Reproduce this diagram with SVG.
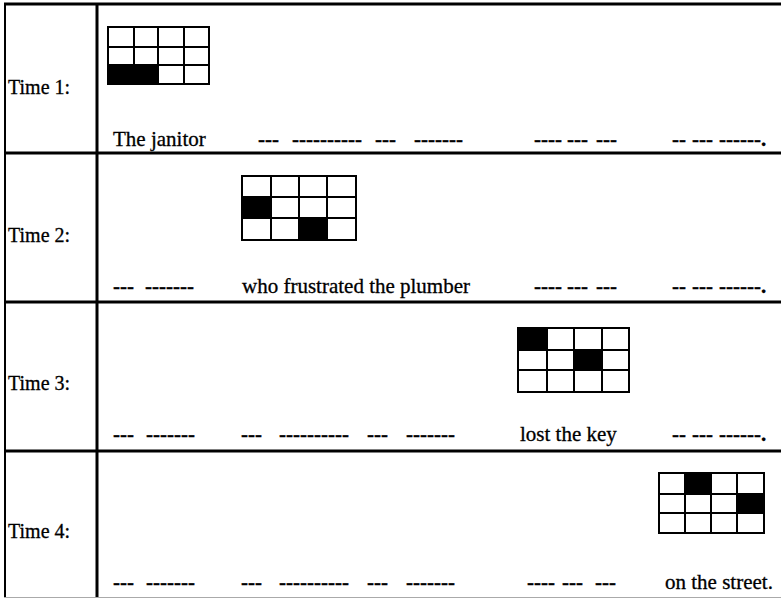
<svg xmlns="http://www.w3.org/2000/svg" width="781" height="598" viewBox="0 0 781 598">
<style>
  .frame { stroke: #000; stroke-width: 3; fill: none; }
  .thin { stroke: #000; stroke-width: 2; fill: none; }
  .grid { stroke: #000; stroke-width: 2; fill: none; }
  .cell { fill: #fff; stroke: #000; stroke-width: 2; }
  .on { fill: #000; }
  text { font-family: "Liberation Serif", "Times New Roman", serif; font-size: 21px; fill: #000; stroke: #000; stroke-width: 0.3; }
  .lab { font-size: 20px; }
  .dash { font-weight: bold; }
</style>
<rect x="0" y="0" width="781" height="598" fill="#fff"/>

<g id="frame">
  <line class="frame" x1="4" y1="4" x2="781" y2="4"/>
  <line class="thin" x1="5" y1="4" x2="5" y2="598"/>
  <line class="frame" x1="97" y1="4" x2="97" y2="598"/>
  <line class="frame" x1="4" y1="153" x2="781" y2="153"/>
  <line class="frame" x1="4" y1="302" x2="781" y2="302"/>
  <line class="frame" x1="4" y1="451" x2="781" y2="451"/>
  <line x1="4" y1="597.5" x2="781" y2="597.5" stroke="#aaa" stroke-width="1"/>
</g>

<g id="row1">
  <text class="lab" x="8" y="94">Time 1:</text>
  <g id="grid1">
    <rect class="cell" x="108" y="27" width="101" height="57"/>
    <rect class="on" x="108" y="65" width="50" height="19"/>
    <path class="grid" d="M134 27V84M158 27V84M184 27V84M108 47H209M108 65H209"/>
    <rect class="grid" x="108" y="27" width="101" height="57"/>
  </g>
  <text x="113" y="146">The janitor</text>
  <text class="dash" y="146"><tspan x="258">---</tspan><tspan x="292">----------</tspan><tspan x="375">---</tspan><tspan x="414">-------</tspan></text>
  <text class="dash" y="146"><tspan x="534">----</tspan><tspan x="567">---</tspan><tspan x="596">---</tspan></text>
  <text class="dash" y="146"><tspan x="672">--</tspan><tspan x="692">---</tspan><tspan x="719">------.</tspan></text>
</g>

<g id="row2">
  <text class="lab" x="8" y="242">Time 2:</text>
  <g id="grid2">
    <rect class="cell" x="242" y="176" width="114" height="64"/>
    <rect class="on" x="242" y="197" width="29" height="21"/>
    <rect class="on" x="299" y="218" width="28" height="22"/>
    <path class="grid" d="M271 176V240M299 176V240M327 176V240M242 197H356M242 218H356"/>
    <rect class="grid" x="242" y="176" width="114" height="64"/>
  </g>
  <text class="dash" y="293"><tspan x="113">---</tspan><tspan x="145">-------</tspan></text>
  <text x="242" y="293">who frustrated the plumber</text>
  <text class="dash" y="293"><tspan x="534">----</tspan><tspan x="567">---</tspan><tspan x="596">---</tspan></text>
  <text class="dash" y="293"><tspan x="672">--</tspan><tspan x="692">---</tspan><tspan x="719">------.</tspan></text>
</g>

<g id="row3">
  <text class="lab" x="8" y="390">Time 3:</text>
  <g id="grid3">
    <rect class="cell" x="518" y="328" width="111" height="64"/>
    <rect class="on" x="518" y="328" width="29" height="22"/>
    <rect class="on" x="574" y="350" width="28" height="20"/>
    <path class="grid" d="M547 328V392M574 328V392M602 328V392M518 350H629M518 370H629"/>
    <rect class="grid" x="518" y="328" width="111" height="64"/>
  </g>
  <text class="dash" y="441"><tspan x="113">---</tspan><tspan x="146">-------</tspan><tspan x="241">---</tspan><tspan x="279">----------</tspan><tspan x="367">---</tspan><tspan x="406">-------</tspan></text>
  <text x="520" y="441">lost the key</text>
  <text class="dash" y="441"><tspan x="672">--</tspan><tspan x="692">---</tspan><tspan x="719">------.</tspan></text>
</g>

<g id="row4">
  <text class="lab" x="8" y="538">Time 4:</text>
  <g id="grid4">
    <rect class="cell" x="659" y="473" width="105" height="60"/>
    <rect class="on" x="685" y="473" width="26" height="21"/>
    <rect class="on" x="737" y="494" width="27" height="19"/>
    <path class="grid" d="M685 473V533M711 473V533M737 473V533M659 494H764M659 513H764"/>
    <rect class="grid" x="659" y="473" width="105" height="60"/>
  </g>
  <text class="dash" y="589"><tspan x="113">---</tspan><tspan x="146">-------</tspan><tspan x="241">---</tspan><tspan x="279">----------</tspan><tspan x="367">---</tspan><tspan x="406">-------</tspan></text>
  <text class="dash" y="589"><tspan x="527">----</tspan><tspan x="562">---</tspan><tspan x="595">---</tspan></text>
  <text x="665" y="589">on the street.</text>
</g>
</svg>
